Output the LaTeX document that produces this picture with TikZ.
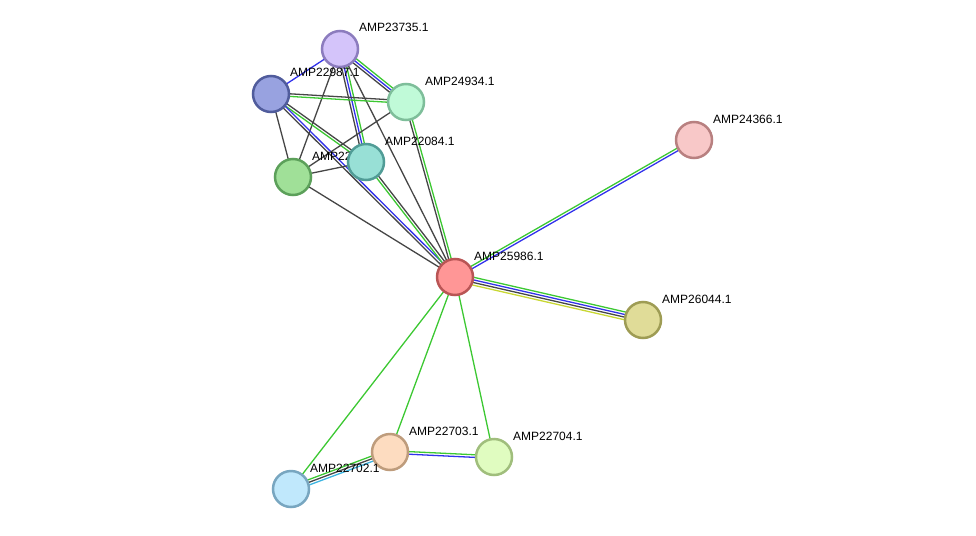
\documentclass[tikz,border=0pt]{standalone}
\usepackage{fontspec}
\setmainfont{Liberation Sans}
\usetikzlibrary{calc}
\pgfdeclarelayer{edges}
\pgfsetlayers{edges,main}
\definecolor{eg}{RGB}{60,200,50}
\definecolor{eb}{RGB}{50,50,235}
\definecolor{ek}{RGB}{70,70,70}
\definecolor{ey}{RGB}{200,215,50}
\definecolor{ec}{RGB}{60,180,225}
\newcommand\mkedge[3]{%
  \foreach \o/\c in {#3} {%
    \draw[edge,\c] ($(#1.center)!\o pt!90:(#2.center)$) -- ($(#2.center)!\o pt!-90:(#1.center)$);
  }%
}
\begin{document}
\begin{tikzpicture}[x=1pt,y=-1pt,
  prot/.style={circle, minimum size=36pt, inner sep=0pt, line width=2.5pt},
  lbl/.style={anchor=base west, inner sep=0pt, font=\fontsize{12}{13}\selectfont},
  edge/.style={line width=1.3pt}]
\useasboundingbox (0,0) rectangle (976,535);
% nodes
\node[prot, fill={rgb,255:red,212;green,196;blue,250}, draw={rgb,255:red,140;green,124;blue,190}] (n23735) at (340,49) {};
\node[lbl] (l23735) at ($(n23735.center)+(19,-17)$) {AMP23735.1};
\node[prot, fill={rgb,255:red,152;green,162;blue,224}, draw={rgb,255:red,80;green,92;blue,156}] (n22987) at (271,94) {};
\node[lbl] (l22987) at ($(n22987.center)+(19,-17)$) {AMP22987.1};
\node[prot, fill={rgb,255:red,192;green,250;blue,216}, draw={rgb,255:red,126;green,190;blue,154}] (n24934) at (406,102) {};
\node[lbl] (l24934) at ($(n24934.center)+(19,-17)$) {AMP24934.1};
\node[prot, fill={rgb,255:red,160;green,224;blue,152}, draw={rgb,255:red,92;green,160;blue,90}] (n22085) at (293,177) {};
\node[lbl] (l22085) at ($(n22085.center)+(19,-17)$) {AMP22085.1};
\node[prot, fill={rgb,255:red,152;green,224;blue,214}, draw={rgb,255:red,80;green,156;blue,150}] (n22084) at (366,162) {};
\node[lbl] (l22084) at ($(n22084.center)+(19,-17)$) {AMP22084.1};
\node[prot, fill={rgb,255:red,255;green,150;blue,150}, draw={rgb,255:red,185;green,85;blue,85}] (n25986) at (455,277) {};
\node[lbl] (l25986) at ($(n25986.center)+(19,-17)$) {AMP25986.1};
\node[prot, fill={rgb,255:red,248;green,200;blue,200}, draw={rgb,255:red,184;green,128;blue,128}] (n24366) at (694,140) {};
\node[lbl] (l24366) at ($(n24366.center)+(19,-17)$) {AMP24366.1};
\node[prot, fill={rgb,255:red,224;green,220;blue,152}, draw={rgb,255:red,158;green,156;blue,84}] (n26044) at (643,320) {};
\node[lbl] (l26044) at ($(n26044.center)+(19,-17)$) {AMP26044.1};
\node[prot, fill={rgb,255:red,253;green,220;blue,192}, draw={rgb,255:red,190;green,156;blue,124}] (n22703) at (390,452) {};
\node[lbl] (l22703) at ($(n22703.center)+(19,-17)$) {AMP22703.1};
\node[prot, fill={rgb,255:red,224;green,252;blue,192}, draw={rgb,255:red,160;green,190;blue,124}] (n22704) at (494,457) {};
\node[lbl] (l22704) at ($(n22704.center)+(19,-17)$) {AMP22704.1};
\node[prot, fill={rgb,255:red,192;green,232;blue,252}, draw={rgb,255:red,120;green,166;blue,192}] (n22702) at (291,489) {};
\node[lbl] (l22702) at ($(n22702.center)+(19,-17)$) {AMP22702.1};
% edges
\begin{pgfonlayer}{edges}
\mkedge{n23735}{n22987}{0/eb}
\mkedge{n23735}{n24934}{2.6/eg,0/eb,-2.6/ek}
\mkedge{n23735}{n22084}{2.6/eg,0/eb,-2.6/ek}
\mkedge{n23735}{n25986}{0/ek}
\mkedge{n23735}{n22085}{0/ek}
\mkedge{n22987}{n24934}{-1.3/eg,1.3/ek}
\mkedge{n22987}{n22084}{-1.3/eg,1.3/ek}
\mkedge{n22987}{n22085}{0/ek}
\mkedge{n22987}{n25986}{1.3/eb,-1.3/ek}
\mkedge{n24934}{n22085}{0/ek}
\mkedge{n24934}{n25986}{1.3/eg,-1.3/ek}
\mkedge{n22084}{n22085}{0/ek}
\mkedge{n22084}{n25986}{-1.3/eg,1.3/ek}
\mkedge{n22085}{n25986}{0/ek}
\mkedge{n25986}{n24366}{1.3/eg,-1.3/eb}
\mkedge{n25986}{n26044}{3.9/eg,1.3/eb,-1.3/ek,-3.9/ey}
\mkedge{n25986}{n22702}{0/eg}
\mkedge{n25986}{n22703}{0/eg}
\mkedge{n25986}{n22704}{0/eg}
\mkedge{n22703}{n22704}{1.3/eg,-1.3/eb}
\mkedge{n22702}{n22703}{2.6/eg,0/ek,-2.6/ec}
\end{pgfonlayer}
\end{tikzpicture}
\end{document}
